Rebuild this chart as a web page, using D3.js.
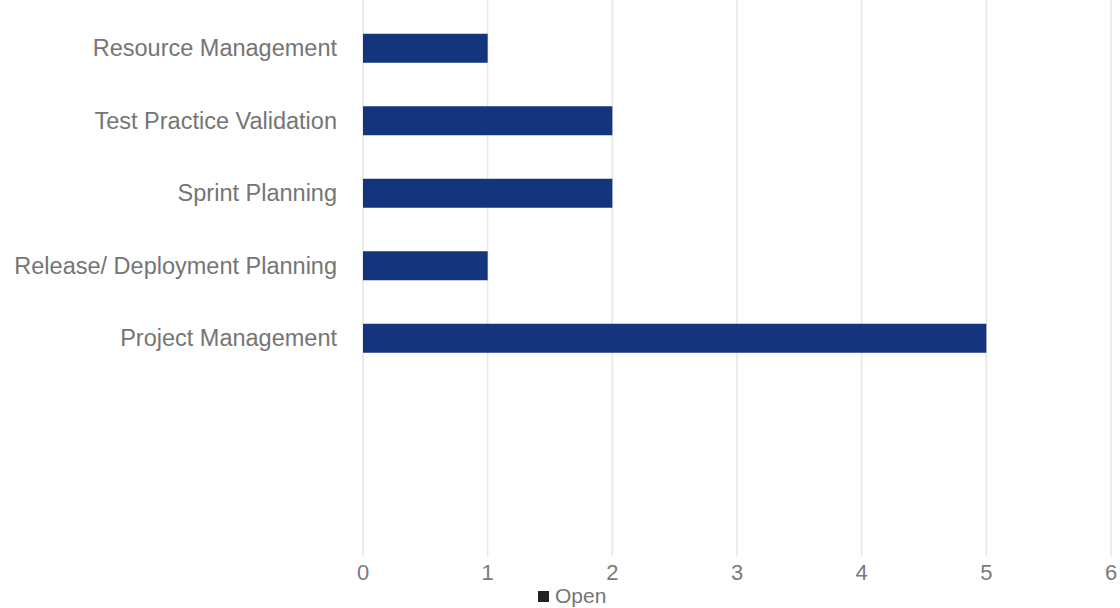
<!DOCTYPE html>
<html>
<head>
<meta charset="utf-8">
<script src="https://cdn.jsdelivr.net/npm/d3@7"></script>
<style>
  body { margin: 0; background: #fff; }
  text { font-family: "Liberation Sans", Arial, sans-serif; }
</style>
</head>
<body>
<script>
// categories top to bottom and their open counts
var categories = ["Resource Management", "Test Practice Validation", "Sprint Planning", "Release/ Deployment Planning", "Project Management"];
var openCounts = [1, 2, 2, 1, 5];
var xTicks = [0, 1, 2, 3, 4, 5, 6];
var seriesName = "Open";

var w = 1120, h = 608;
var svg = d3.select("body").append("svg")
    .attr("width", w)
    .attr("height", h);

var x = d3.scaleLinear()
    .domain([0, 6])
    .range([363, 1111]);

// five bands, ~72.5px apart starting near the top
var y = d3.scaleBand()
    .domain(categories)
    .range([12, 12 + 72.5 * categories.length])
    .paddingInner(0.6)
    .paddingOuter(0.3);

// vertical gridlines
svg.append("g").selectAll("line")
    .data(xTicks)
    .enter().append("line")
    .attr("x1", function(d){ return x(d); })
    .attr("x2", function(d){ return x(d); })
    .attr("y1", 0)
    .attr("y2", 556)
    .style("stroke", "#e6e6e6")
    .style("stroke-width", 1.5);

// bars
var data = categories.map(function(c, i){ return {cat: c, val: openCounts[i]}; });
svg.append("g").selectAll("rect")
    .data(data)
    .enter().append("rect")
    .attr("x", x(0))
    .attr("y", function(d){ return y(d.cat); })
    .attr("width", function(d){ return x(d.val) - x(0); })
    .attr("height", y.bandwidth())
    .style("fill", "#14347e");

// category labels
svg.append("g").selectAll("text")
    .data(categories)
    .enter().append("text")
    .attr("x", 337)
    .attr("y", function(d){ return y(d) + y.bandwidth() / 2; })
    .attr("dy", "0.35em")
    .attr("text-anchor", "end")
    .style("font-size", "23.5px")
    .style("fill", "#757575")
    .text(function(d){ return d; });

// x tick labels
svg.append("g").selectAll("text")
    .data(xTicks)
    .enter().append("text")
    .attr("x", function(d){ return x(d); })
    .attr("y", 580)
    .attr("text-anchor", "middle")
    .style("font-size", "22px")
    .style("fill", "#7a7a7a")
    .text(function(d){ return d; });

// legend
svg.append("rect")
    .attr("x", 538)
    .attr("y", 591)
    .attr("width", 11)
    .attr("height", 11)
    .style("fill", "#222");
svg.append("text")
    .attr("x", 555)
    .attr("y", 603)
    .style("font-size", "21px")
    .style("fill", "#757575")
    .text(seriesName);
</script>
</body>
</html>
